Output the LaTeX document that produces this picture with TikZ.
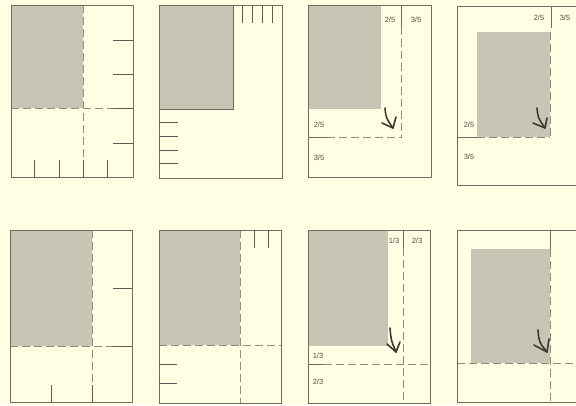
\documentclass[tikz,border=0pt]{standalone}
\usepackage{fontspec}
\setsansfont{Liberation Sans}
\begin{document}
\begin{tikzpicture}[x=1pt,y=-1pt,
  frame/.style={draw=framec,line width=0.9pt},
  shade/.style={fill=shadec},
  dline/.style={draw=dashc,line width=1pt,dash pattern=on 8pt off 4pt},
  sline/.style={draw=framec,line width=0.7pt},
  tick/.style={draw=tickc,line width=0.9pt},
  arr/.style={draw=arrc,line width=1.6pt,line cap=round,line join=round},
  lab/.style={font=\sffamily\fontsize{7.5}{8}\selectfont,text=labc,inner sep=0pt}]
\definecolor{bgc}{HTML}{FFFFE3}
\definecolor{framec}{HTML}{6E6C62}
\definecolor{shadec}{HTML}{C8C5B4}
\definecolor{dashc}{HTML}{8E8C80}
\definecolor{tickc}{HTML}{5E5C54}
\definecolor{arrc}{HTML}{3A3A34}
\definecolor{labc}{HTML}{4E4D46}
\useasboundingbox (0,0) rectangle (576,405);
\fill[bgc] (0,0) rectangle (576,405);

% ---------- Panel 1 ----------
\fill[shade] (11,5) rectangle (83,108);
\draw[dline] (83,5) -- (83,177);
\draw[dline] (11,108) -- (133,108);
\draw[frame] (11,5) rectangle (133,177);
\foreach \y in {40,74,108,143} \draw[tick] (113,\y) -- (133,\y);
\foreach \x in {34,59,83,107} \draw[tick] (\x,160) -- (\x,177);

% ---------- Panel 2 ----------
\fill[shade] (159,5) rectangle (233,109);
\draw[sline] (233,5) -- (233,109) -- (159,109);
\draw[frame] (159,5) rectangle (282,178);
\foreach \x in {242,252,262,272} \draw[tick] (\x,5) -- (\x,23);
\foreach \y in {122,136,150,163} \draw[tick] (159,\y) -- (178,\y);

% ---------- Panel 3 ----------
\fill[shade] (308,5) rectangle (381,109);
\draw[sline] (401,5) -- (401,27);
\draw[dline] (401,27) -- (401,138);
\draw[sline] (308,137) -- (327,137);
\draw[dline] (327,137) -- (401,137);
\draw[frame] (308,5) rectangle (431,177);
\node[lab] (p3a) at (390,20) {2/5};
\node[lab] (p3b) at (416,20) {3/5};
\node[lab] (p3c) at (319,125) {2/5};
\node[lab] (p3d) at (319,158) {3/5};
\draw[arr] (385,108) .. controls (386,118) .. (393,128);
\draw[arr] (382,123) -- (393,128) -- (396,117);

% ---------- Panel 4 ----------
\fill[shade] (477,32) rectangle (550,137);
\draw[sline] (551,6) -- (551,28);
\draw[dline] (550,32) -- (550,137);
\draw[sline] (457,137) -- (477,137);
\draw[dline] (477,137) -- (550,137);
\draw[frame] (457,6) -- (578,6);
\draw[frame] (457,185) -- (578,185);
\draw[frame] (457,6) -- (457,185);
\node[lab] (p4a) at (539,18) {2/5};
\node[lab] (p4b) at (565,18) {3/5};
\node[lab] (p4c) at (469,125) {2/5};
\node[lab] (p4d) at (469,157) {3/5};
\draw[arr] (537,108) .. controls (538,118) .. (545,128);
\draw[arr] (533,123) -- (545,128) -- (547,118);

% ---------- Panel 5 ----------
\fill[shade] (10,230) rectangle (92,346);
\draw[dline] (92,230) -- (92,402);
\draw[dline] (10,346) -- (132,346);
\draw[frame] (10,230) rectangle (132,402);
\foreach \y in {288,346} \draw[tick] (113,\y) -- (132,\y);
\draw[tick] (51,385) -- (51,402);
\draw[tick] (92,385) -- (92,402);

% ---------- Panel 6 ----------
\fill[shade] (159,230) rectangle (240,345);
\draw[dline] (240,230) -- (240,403);
\draw[dline] (159,345) -- (281,345);
\draw[frame] (159,230) rectangle (281,403);
\foreach \x in {254,268} \draw[tick] (\x,230) -- (\x,248);
\foreach \y in {364,383} \draw[tick] (159,\y) -- (177,\y);

% ---------- Panel 7 ----------
\fill[shade] (308,230) rectangle (388,346);
\draw[sline] (403,230) -- (403,248);
\draw[dline] (403,248) -- (403,403);
\draw[sline] (308,364) -- (324,364);
\draw[dline] (324,364) -- (430,364);
\draw[frame] (308,230) rectangle (430,403);
\node[lab] (p7a) at (394,241) {1/3};
\node[lab] (p7b) at (417,241) {2/3};
\node[lab] (p7c) at (318,356) {1/3};
\node[lab] (p7d) at (318,382) {2/3};
\draw[arr] (390,328) .. controls (391,340) .. (396,352);
\draw[arr] (387,344) -- (396,352) -- (400,342);

% ---------- Panel 8 ----------
\fill[shade] (471,249) rectangle (550,363);
\draw[sline] (550,230) -- (550,249);
\draw[dline] (550,249) -- (550,402);
\draw[dline] (457,363) -- (578,363);
\draw[frame] (457,230) -- (578,230);
\draw[frame] (457,402) -- (578,402);
\draw[frame] (457,230) -- (457,402);
\draw[arr] (538,330) .. controls (539,342) .. (547,352);
\draw[arr] (534,345) -- (547,352) -- (549,339);
\end{tikzpicture}
\end{document}
